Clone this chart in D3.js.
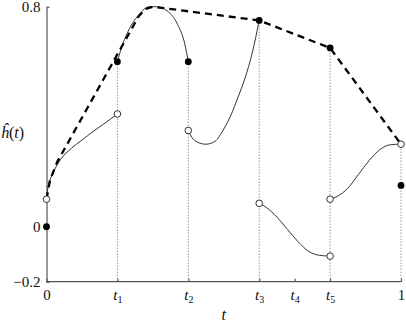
<!DOCTYPE html>
<meta charset="utf-8">
<style>
  body { margin: 0; background: #fff; }
  .axis path, .axis line { stroke: #555; stroke-width: 1.2; }
  .piece { fill: none; stroke: #333; stroke-width: 1; }
</style>
<body>
<script src="https://cdn.jsdelivr.net/npm/d3@7"></script>
<script>
// x ticks and their names
var tickVals = [0, 0.2, 0.4, 0.6, 0.7, 0.8, 1];
var tickNames = ["0", "t1", "t2", "t3", "t4", "t5", "1"];
var yTicks = [-0.2, 0, 0.8];

// the five continuous pieces of h(t)
var seg1T = [0, 0.005, 0.01, 0.02, 0.04, 0.07, 0.1, 0.13, 0.16, 0.2];
var seg1V = [0.1, 0.15, 0.17, 0.2, 0.245, 0.285, 0.315, 0.345, 0.372, 0.41];
var seg2T = [0.2, 0.21, 0.23, 0.26, 0.29, 0.31, 0.34, 0.37, 0.39, 0.4];
var seg2V = [0.6, 0.645, 0.71, 0.77, 0.8, 0.8, 0.785, 0.735, 0.665, 0.6];
var seg3T = [0.4, 0.41, 0.425, 0.45, 0.475, 0.5, 0.52, 0.54, 0.56, 0.58, 0.6];
var seg3V = [0.35, 0.325, 0.308, 0.3, 0.31, 0.355, 0.405, 0.47, 0.54, 0.63, 0.75];
var seg4T = [0.6, 0.62, 0.65, 0.68, 0.71, 0.74, 0.77, 0.8];
var seg4V = [0.085, 0.07, 0.035, -0.01, -0.055, -0.09, -0.104, -0.107];
var seg5T = [0.8, 0.82, 0.85, 0.88, 0.91, 0.94, 0.97, 1];
var seg5V = [0.1, 0.11, 0.14, 0.19, 0.24, 0.28, 0.298, 0.3];

// dashed upper envelope
var envT = [0, 0.01, 0.03, 0.26, 0.28, 0.3, 0.6, 0.8, 1];
var envV = [0.1, 0.17, 0.235, 0.765, 0.792, 0.8, 0.75, 0.65, 0.3];

// jump values
var filledT = [0, 0.2, 0.4, 0.6, 0.8, 1];
var filledV = [0, 0.6, 0.6, 0.75, 0.65, 0.15];
var openT = [0, 0.2, 0.4, 0.6, 0.8, 0.8, 1];
var openV = [0.1, 0.41, 0.35, 0.085, -0.107, 0.1, 0.3];

// dotted guides
var guideT = [0.2, 0.4, 0.6, 0.8, 1];
var guideV = [0.6, 0.6, 0.75, 0.65, 0.3];

var serif = "'Liberation Serif', 'Times New Roman', serif";
var width = 406, height = 322;
var x = d3.scaleLinear().domain([0, 1]).range([46.5, 401]);
var y = d3.scaleLinear().domain([-0.2, 0.8]).range([281.7, 6.7]);

var svg = d3.select("body").append("svg")
  .attr("width", width)
  .attr("height", height);

// guides
svg.selectAll(".guide").data(guideT).join("line")
  .attr("class", "guide")
  .attr("x1", function(d) { return x(d); })
  .attr("x2", function(d) { return x(d); })
  .attr("y1", y(-0.2))
  .attr("y2", function(d, i) { return y(guideV[i]); })
  .attr("stroke", "#666")
  .attr("stroke-width", 1)
  .attr("stroke-dasharray", "1,2");

// axes
var xAxis = svg.append("g").attr("class", "axis")
  .attr("transform", "translate(0," + y(-0.2) + ")")
  .call(d3.axisBottom(x).tickValues(tickVals).tickSize(-3).tickSizeOuter(0).tickPadding(8));
xAxis.selectAll(".tick text").each(function(d, i) {
  var name = tickNames[i], t = d3.select(this).text("").attr("font-size", 15);
  if (name.length == 1) { t.text(name); return; }
  t.append("tspan").style("font-style", "italic").text(name[0]);
  t.append("tspan").attr("font-size", 10).attr("dy", 3).text(name[1]);
});
xAxis.select(".domain").attr("d", "M" + x(0) + ",0H" + x(1));

var yAxis = svg.append("g").attr("class", "axis")
  .attr("transform", "translate(" + x(0) + ",0)")
  .call(d3.axisLeft(y).tickValues(yTicks).tickSize(-3).tickSizeOuter(0).tickPadding(6)
    .tickFormat(function(d) { return d == 0 ? "0" : d3.format(".1f")(d); }));
yAxis.selectAll(".tick text").attr("font-size", 15);

// pieces
var line = d3.line()
  .x(function(d) { return x(d[0]); })
  .y(function(d) { return y(d[1]); })
  .curve(d3.curveMonotoneX);
var pieces = [[seg1T, seg1V], [seg2T, seg2V], [seg3T, seg3V], [seg4T, seg4V], [seg5T, seg5V]];
pieces.forEach(function(p) {
  svg.append("path").attr("class", "piece")
    .attr("d", line(d3.zip(p[0], p[1])));
});

// envelope
svg.append("path")
  .attr("d", d3.line().x(function(d) { return x(d[0]); }).y(function(d) { return y(d[1]); })(d3.zip(envT, envV)))
  .attr("fill", "none")
  .attr("stroke", "#000")
  .attr("stroke-width", 2.3)
  .attr("stroke-dasharray", "7,5");

// points
svg.selectAll(".open").data(d3.zip(openT, openV)).join("circle")
  .attr("class", "open")
  .attr("cx", function(d) { return x(d[0]); })
  .attr("cy", function(d) { return y(d[1]); })
  .attr("r", 3.3)
  .attr("fill", "#fff")
  .attr("stroke", "#333")
  .attr("stroke-width", 1);
svg.selectAll(".filled").data(d3.zip(filledT, filledV)).join("circle")
  .attr("class", "filled")
  .attr("cx", function(d) { return x(d[0]); })
  .attr("cy", function(d) { return y(d[1]); })
  .attr("r", 3.4)
  .attr("fill", "#000");

// axis labels
svg.append("text")
  .attr("x", (x(0) + x(1)) / 2)
  .attr("y", 320)
  .attr("text-anchor", "middle")
  .attr("font-size", 16)
  .style("font-style", "italic")
  .text("t");

var yl = svg.append("text")
  .attr("x", 1)
  .attr("y", 138)
  .attr("font-size", 16);
yl.append("tspan").style("font-style", "italic").text("ĥ");
yl.append("tspan").text("(");
yl.append("tspan").style("font-style", "italic").text("t");
yl.append("tspan").text(")");

svg.selectAll("text").style("font-family", serif).attr("fill", "#111");
</script>
</body>
